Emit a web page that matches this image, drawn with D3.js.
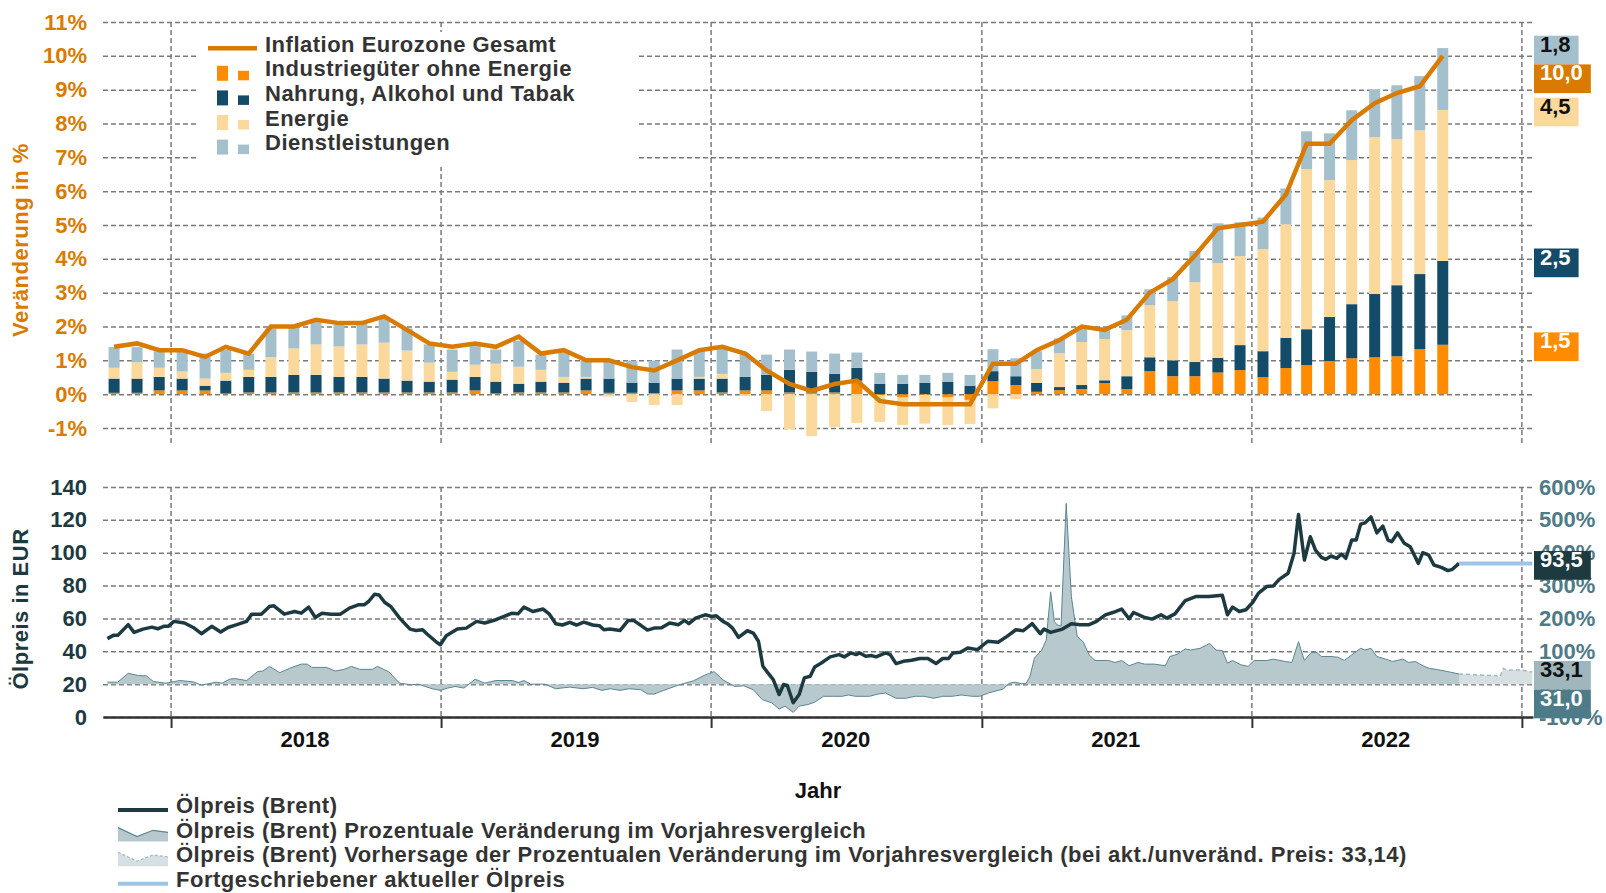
<!DOCTYPE html>
<html>
<head>
<meta charset="utf-8">
<script src="https://cdn.jsdelivr.net/npm/d3@7"></script>
<style>
  body { margin: 0; background: #fff; }
  svg { font-family: "Liberation Sans", Arial, sans-serif; font-weight: bold; }
</style>
</head>
<body>
<svg id="chart" width="1606" height="893"></svg>
<script>
// --- data ---
const months = [
  "2017-10","2017-11","2017-12",
  "2018-01","2018-02","2018-03","2018-04","2018-05","2018-06","2018-07","2018-08","2018-09","2018-10","2018-11","2018-12",
  "2019-01","2019-02","2019-03","2019-04","2019-05","2019-06","2019-07","2019-08","2019-09","2019-10","2019-11","2019-12",
  "2020-01","2020-02","2020-03","2020-04","2020-05","2020-06","2020-07","2020-08","2020-09","2020-10","2020-11","2020-12",
  "2021-01","2021-02","2021-03","2021-04","2021-05","2021-06","2021-07","2021-08","2021-09","2021-10","2021-11","2021-12",
  "2022-01","2022-02","2022-03","2022-04","2022-05","2022-06","2022-07","2022-08","2022-09"
];

// contributions in percentage points
const industrial = [0.04,0.04,0.11,
  0.11,0.11,0.02,0.05,0.05,0.05,0.05,0.05,0.05,0.05,0.05,0.05,
  0.05,0.11,0.02,0.05,0.05,0.05,0.11,0.04,0.04,0.03,0.11,0.11,
  0.05,0.11,0.11,0.05,0.05,0.05,0.40,-0.03,-0.10,-0.02,-0.10,-0.17,
  0.38,0.27,0.07,0.12,0.15,0.33,0.15,0.68,0.53,0.53,0.64,0.71,
  0.50,0.77,0.86,0.98,1.06,1.09,1.12,1.33,1.46];
const food = [0.42,0.42,0.40,
  0.35,0.14,0.38,0.46,0.46,0.52,0.52,0.46,0.46,0.41,0.35,0.32,
  0.38,0.40,0.35,0.26,0.32,0.29,0.35,0.42,0.30,0.31,0.35,0.35,
  0.41,0.40,0.46,0.67,0.61,0.55,0.38,0.31,0.31,0.34,0.37,0.25,
  0.30,0.26,0.26,0.09,0.12,0.08,0.38,0.41,0.47,0.42,0.43,0.74,
  0.77,0.89,1.06,1.30,1.60,1.87,2.10,2.22,2.48];
const energy = [0.32,0.48,0.27,
  0.21,0.21,0.23,0.21,0.58,0.78,0.90,0.90,0.96,1.06,0.89,0.56,
  0.23,0.36,0.53,0.50,0.35,0.17,0.05,-0.07,-0.23,-0.32,-0.32,0.05,
  0.14,-0.05,-0.50,-1.04,-1.24,-0.97,-0.85,-0.79,-0.81,-0.85,-0.81,-0.71,
  -0.42,-0.15,0.41,1.00,1.27,1.22,1.36,1.54,1.75,2.36,2.80,2.63,
  3.02,3.36,4.73,4.05,4.26,4.64,4.32,4.25,4.46];
const services = [0.61,0.45,0.49,
  0.60,0.74,0.69,0.48,0.85,0.62,0.66,0.65,0.62,0.72,0.65,0.54,
  0.66,0.55,0.42,0.77,0.45,0.72,0.48,0.53,0.65,0.65,0.86,0.76,
  0.75,0.66,0.60,0.60,0.60,0.60,0.45,0.32,0.26,0.23,0.26,0.32,
  0.65,0.53,0.53,0.44,0.41,0.32,0.44,0.47,0.71,0.92,1.18,1.00,
  0.93,1.06,1.12,1.38,1.47,1.41,1.59,1.60,1.83];
const inflation = [1.4,1.5,1.3,
  1.3,1.1,1.4,1.2,2.0,2.0,2.2,2.1,2.1,2.3,1.9,1.5,
  1.4,1.5,1.4,1.7,1.2,1.3,1.0,1.0,0.8,0.7,1.0,1.3,
  1.4,1.2,0.7,0.3,0.1,0.3,0.4,-0.2,-0.3,-0.3,-0.3,-0.3,
  0.9,0.9,1.3,1.6,2.0,1.9,2.2,3.0,3.4,4.1,4.9,5.0,
  5.1,5.9,7.4,7.4,8.1,8.6,8.9,9.1,10.0];

// Brent in EUR
const oilPrice = [
  ["2017-10-07",47.7],["2017-10-15",49.7],["2017-10-21",49.7],["2017-11-04",56.2],["2017-11-12",51.5],["2017-11-24",53.5],
  ["2017-12-06",54.7],["2017-12-14",53.7],["2017-12-22",55.2],["2017-12-28",55.2],["2018-01-05",58.2],["2018-01-19",57.2],
  ["2018-01-31",54.5],["2018-02-11",50.7],["2018-02-25",55.2],["2018-03-09",51.7],["2018-03-19",54.5],["2018-03-31",56.2],
  ["2018-04-13",58.2],["2018-04-20",62.6],["2018-05-03",62.6],["2018-05-14",67.3],["2018-05-20",67.7],["2018-06-03",62.6],
  ["2018-06-17",64.2],["2018-06-26",63.2],["2018-07-06",66.9],["2018-07-15",60.6],["2018-07-24",63.2],["2018-08-05",62.6],
  ["2018-08-18",62.6],["2018-08-30",66.3],["2018-09-11",68.3],["2018-09-19",68.3],["2018-09-25",70.3],["2018-10-03",74.7],
  ["2018-10-09",74.3],["2018-10-17",69.7],["2018-10-25",67.3],["2018-11-06",60.2],["2018-11-20",53.5],["2018-11-28",52.7],
  ["2018-12-07",53.1],["2018-12-13",50.5],["2018-12-26",45.5],["2018-12-31",44.0],["2019-01-08",49.5],["2019-01-23",53.5],
  ["2019-02-04",54.1],["2019-02-18",58.2],["2019-03-01",57.2],["2019-03-16",59.2],["2019-03-29",61.6],["2019-04-07",63.2],
  ["2019-04-15",62.8],["2019-04-23",66.9],["2019-05-05",64.2],["2019-05-19",65.7],["2019-05-27",62.8],["2019-06-05",56.8],
  ["2019-06-14",56.0],["2019-06-24",57.6],["2019-07-03",56.0],["2019-07-13",57.8],["2019-07-25",56.0],["2019-08-03",55.6],
  ["2019-08-09",53.1],["2019-08-17",53.5],["2019-08-31",52.7],["2019-09-11",58.8],["2019-09-18",58.8],["2019-09-28",55.8],
  ["2019-10-07",52.9],["2019-10-16",54.1],["2019-10-26",54.3],["2019-11-06",57.2],["2019-11-18",56.2],["2019-11-26",58.8],
  ["2019-12-02",56.8],["2019-12-11",60.2],["2019-12-24",62.2],["2020-01-02",61.2],["2020-01-08",61.6],["2020-01-17",58.2],
  ["2020-01-23",56.8],["2020-01-30",54.1],["2020-02-07",48.5],["2020-02-19",52.5],["2020-02-27",51.1],["2020-03-05",46.1],
  ["2020-03-11",30.9],["2020-03-17",27.3],["2020-03-25",22.8],["2020-04-02",13.7],["2020-04-08",19.8],["2020-04-13",19.2],
  ["2020-04-21",8.7],["2020-04-29",13.7],["2020-05-06",23.8],["2020-05-14",24.8],["2020-05-20",30.5],["2020-05-29",32.9],
  ["2020-06-10",36.6],["2020-06-22",38.0],["2020-06-29",36.6],["2020-07-08",39.0],["2020-07-15",38.0],["2020-07-20",39.0],
  ["2020-07-28",37.0],["2020-08-05",37.4],["2020-08-11",36.6],["2020-08-24",39.0],["2020-08-30",38.0],["2020-09-07",32.5],
  ["2020-09-17",33.9],["2020-09-28",34.5],["2020-10-09",35.6],["2020-10-20",35.6],["2020-10-31",32.5],["2020-11-09",35.6],
  ["2020-11-17",35.6],["2020-11-23",39.0],["2020-12-03",39.4],["2020-12-13",42.0],["2020-12-26",41.0],["2021-01-09",46.1],
  ["2021-01-23",45.5],["2021-02-04",49.1],["2021-02-16",53.1],["2021-02-26",52.5],["2021-03-10",56.8],["2021-03-21",50.7],
  ["2021-03-26",53.5],["2021-04-04",51.5],["2021-04-20",53.5],["2021-05-02",56.8],["2021-05-14",56.2],["2021-05-26",56.2],
  ["2021-06-05",58.2],["2021-06-17",62.2],["2021-06-27",63.6],["2021-07-09",65.7],["2021-07-19",59.8],["2021-07-25",63.6],
  ["2021-08-08",60.8],["2021-08-19",59.6],["2021-08-31",62.2],["2021-09-08",60.2],["2021-09-19",62.8],["2021-10-03",70.9],
  ["2021-10-17",73.3],["2021-11-04",73.3],["2021-11-22",74.1],["2021-11-29",62.2],["2021-12-06",66.9],["2021-12-15",64.2],
  ["2021-12-24",65.3],["2022-01-02",69.7],["2022-01-10",75.4],["2022-01-21",79.4],["2022-01-30",79.8],["2022-02-07",83.8],
  ["2022-02-19",87.5],["2022-02-27",99.6],["2022-03-05",123.2],["2022-03-13",95.6],["2022-03-21",109.7],["2022-03-28",101.6],
  ["2022-04-05",97.2],["2022-04-11",96.0],["2022-04-18",98.0],["2022-04-26",96.6],["2022-05-02",99.2],["2022-05-08",96.6],
  ["2022-05-16",107.7],["2022-05-22",107.7],["2022-05-28",117.4],["2022-06-03",118.2],["2022-06-11",121.8],["2022-06-19",112.1],
  ["2022-06-27",116.2],["2022-07-04",107.7],["2022-07-09",106.7],["2022-07-17",112.1],["2022-07-26",105.7],["2022-08-03",103.6],
  ["2022-08-14",93.5],["2022-08-20",100.0],["2022-08-28",98.6],["2022-09-04",92.5],["2022-09-14",91.1],["2022-09-23",89.1],
  ["2022-09-29",89.9],["2022-10-08",93.5]
];

// Brent, % change on previous year
const oilChange = [
  ["2017-10-07",6],["2017-10-21",6],["2017-11-04",33],["2017-11-18",26],["2017-11-29",25],["2017-12-08",8],["2017-12-25",3],
  ["2018-01-13",11],["2018-01-31",7],["2018-02-11",-3],["2018-03-03",6],["2018-03-11",3],["2018-03-21",15],["2018-03-28",17],
  ["2018-04-13",11],["2018-04-28",38],["2018-05-05",40],["2018-05-14",54],["2018-05-28",35],["2018-06-10",48],["2018-06-26",61],
  ["2018-07-04",61],["2018-07-10",51],["2018-07-30",51],["2018-08-11",40],["2018-08-23",45],["2018-09-02",54],["2018-09-13",45],
  ["2018-09-30",45],["2018-10-07",54],["2018-10-22",38],["2018-11-06",3],["2018-11-22",-2],["2018-12-01",0],["2018-12-20",-14],
  ["2018-12-31",-19],["2019-01-10",-12],["2019-01-20",-7],["2019-02-01",-12],["2019-02-16",15],["2019-03-01",3],["2019-03-16",11],
  ["2019-04-07",11],["2019-04-16",5],["2019-04-23",11],["2019-05-02",0],["2019-05-21",0],["2019-06-05",-14],["2019-06-24",-9],
  ["2019-07-12",-14],["2019-07-25",-10],["2019-08-06",-19],["2019-08-18",-14],["2019-08-31",-19],["2019-09-12",-14],["2019-09-28",-17],
  ["2019-10-07",-30],["2019-10-16",-30],["2019-10-29",-19],["2019-11-19",-2],["2019-12-08",10],["2019-12-24",28],["2020-01-05",38],
  ["2020-01-17",13],["2020-02-02",-7],["2020-02-14",-5],["2020-02-27",-17],["2020-03-10",-47],["2020-03-23",-57],["2020-04-02",-76],
  ["2020-04-10",-67],["2020-04-21",-86],["2020-04-29",-67],["2020-05-11",-62],["2020-05-20",-55],["2020-06-01",-37],["2020-06-13",-37],
  ["2020-06-26",-37],["2020-07-05",-33],["2020-07-14",-37],["2020-08-02",-37],["2020-08-14",-30],["2020-08-24",-27],["2020-09-07",-43],
  ["2020-09-20",-43],["2020-10-03",-37],["2020-10-15",-37],["2020-10-28",-43],["2020-11-09",-37],["2020-11-22",-37],["2020-12-04",-33],
  ["2020-12-19",-37],["2020-12-29",-37],["2021-01-10",-27],["2021-01-23",-19],["2021-01-30",-15],["2021-02-07",3],["2021-02-15",6],
  ["2021-02-24",1],["2021-03-02",3],["2021-03-07",23],["2021-03-13",79],["2021-03-23",104],["2021-03-29",134],["2021-04-04",281],
  ["2021-04-09",190],["2021-04-13",180],["2021-04-18",177],["2021-04-25",550],["2021-05-02",266],["2021-05-10",144],["2021-05-18",129],
  ["2021-05-26",89],["2021-06-03",72],["2021-06-21",72],["2021-06-30",66],["2021-07-09",72],["2021-07-19",56],["2021-07-31",66],
  ["2021-08-09",61],["2021-08-22",61],["2021-09-06",56],["2021-09-12",84],["2021-09-22",91],["2021-10-03",107],["2021-10-10",104],
  ["2021-10-23",109],["2021-11-05",124],["2021-11-13",104],["2021-11-22",102],["2021-11-29",64],["2021-12-06",72],["2021-12-17",59],
  ["2021-12-27",54],["2022-01-04",72],["2022-01-21",72],["2022-01-30",76],["2022-02-15",69],["2022-02-24",66],["2022-03-05",129],
  ["2022-03-13",72],["2022-03-22",96],["2022-03-30",96],["2022-04-05",84],["2022-04-18",84],["2022-04-27",82],["2022-05-06",72],
  ["2022-05-16",89],["2022-05-28",109],["2022-06-03",104],["2022-06-11",109],["2022-06-19",84],["2022-07-01",76],["2022-07-10",69],
  ["2022-07-24",76],["2022-08-01",66],["2022-08-10",69],["2022-08-20",56],["2022-08-29",48],["2022-09-07",45],["2022-09-23",38],
  ["2022-10-08",31.0]
];

// forecast of % change at unchanged price
const oilChangeForecast = [
  ["2022-10-08",31],["2022-11-10",27],["2022-11-26",26],["2022-12-02",22],["2022-12-07",48],
  ["2022-12-14",42],["2022-12-30",44],["2023-01-15",37]
];
const forecastAtPrice = 33.14;
const projectionEnd = "2023-01-15";

const years = ["2018", "2019", "2020", "2021", "2022"];

const barKeys = ["industrial", "food", "energy", "services"];
const barNames = ["Industriegüter ohne Energie", "Nahrung, Alkohol und Tabak", "Energie", "Dienstleistungen"];
const barColors = ["#ff8c00", "#134b69", "#fbd89c", "#a4c0cd"];

const orange = "#d97b00";
const oilColor = "#1d3a41";
const tealText = "#4f7a87";

// --- scales ---
const svg = d3.select("#chart");
const parseDay = d3.timeParse("%Y-%m-%d");
const parseMonth = d3.timeParse("%Y-%m");
const midMonth = m => d3.timeDay.offset(parseMonth(m), 15);

const x = d3.scaleTime()
  .domain([new Date(2017, 9, 1), new Date(2023, 0, 16)])
  .range([103, 1533]);
const x0 = x.range()[0], x1 = x.range()[1];

const yTop = d3.scaleLinear().domain([-1, 11]).range([428, 22]);
const yOil = d3.scaleLinear().domain([0, 140]).range([717, 487]);
const yPct = d3.scaleLinear().domain([-100, 600]).range([717, 487]);

const fmt = v => v.toFixed(1).replace(".", ",");
const FONT = "'Liberation Sans', Arial, sans-serif";

function styleGrid(g) {
  g.select(".domain").remove();
  g.attr("font-size", 22).attr("font-family", FONT).attr("font-weight", "bold");
  g.selectAll(".tick line")
    .attr("stroke", "#7a7a7a")
    .attr("stroke-width", 1.5)
    .attr("stroke-dasharray", "5,3");
}

// --- top chart: grid ---
const yearLines = x.ticks(d3.timeYear.every(1));

svg.append("g")
  .attr("transform", `translate(${x0},0)`)
  .call(d3.axisLeft(yTop).tickValues(d3.range(-1, 12)).tickSize(-(x1 - x0)).tickPadding(16).tickFormat(d => d + "%"))
  .call(styleGrid)
  .call(g => g.selectAll("text").attr("fill", orange));

svg.append("g").selectAll("line")
  .data(yearLines)
  .join("line")
  .attr("x1", d => x(d)).attr("x2", d => x(d))
  .attr("y1", yTop(11)).attr("y2", 445)
  .attr("stroke", "#7a7a7a").attr("stroke-width", 1.5).attr("stroke-dasharray", "5,3");

// legend box hides grid behind it
svg.append("rect")
  .attr("x", 199).attr("y", 32).attr("width", 439).attr("height", 135)
  .attr("fill", "#fff");

// --- top chart: stacked bars ---
const rows = months.map((m, i) => ({
  month: m,
  industrial: industrial[i], food: food[i], energy: energy[i], services: services[i]
}));
const series = d3.stack().keys(barKeys).offset(d3.stackOffsetDiverging)(rows);
const barW = 11;

svg.append("g").selectAll("g")
  .data(series)
  .join("g")
  .attr("fill", (d, i) => barColors[i])
  .selectAll("rect")
  .data(d => d)
  .join("rect")
  .attr("x", d => x(midMonth(d.data.month)) - barW / 2)
  .attr("width", barW)
  .attr("y", d => yTop(Math.max(d[0], d[1])))
  .attr("height", d => Math.abs(yTop(d[0]) - yTop(d[1])));

svg.append("path")
  .datum(months.map((m, i) => [m, inflation[i]]))
  .attr("fill", "none")
  .attr("stroke", orange)
  .attr("stroke-width", 4.5)
  .attr("d", d3.line().x(d => x(midMonth(d[0]))).y(d => yTop(d[1])));

// legend (top)
const legTop = svg.append("g").attr("font-size", 22).attr("fill", "#333").attr("letter-spacing", 0.5);
const legRow0 = 51.7, legStep = 24.6;
legTop.append("line")
  .attr("x1", 208).attr("x2", 257)
  .attr("y1", legRow0 - 3.4).attr("y2", legRow0 - 3.4)
  .attr("stroke", orange).attr("stroke-width", 4.5);
legTop.append("text").attr("x", 265).attr("y", legRow0).text("Inflation Eurozone Gesamt");
barNames.forEach((name, i) => {
  const by = legRow0 + legStep * (i + 1);
  legTop.append("rect").attr("x", 217).attr("y", by - 10.5).attr("width", 11).attr("height", 15).attr("fill", barColors[i]);
  legTop.append("rect").attr("x", 238).attr("y", by - 5.5).attr("width", 11).attr("height", 9.5).attr("fill", barColors[i]);
  legTop.append("text").attr("x", 265).attr("y", by).text(name);
});

// axis title (top)
svg.append("text")
  .attr("transform", "translate(20,240) rotate(-90)")
  .attr("text-anchor", "middle").attr("dy", "0.35em")
  .attr("font-size", 22).attr("letter-spacing", 0.5)
  .attr("fill", orange)
  .text("Veränderung in %");

// --- bottom chart: grid ---
svg.append("g")
  .attr("transform", `translate(${x0},0)`)
  .call(d3.axisLeft(yOil).tickValues(d3.range(0, 141, 20)).tickSize(-(x1 - x0)).tickPadding(16))
  .call(styleGrid)
  .call(g => g.selectAll("text").attr("fill", oilColor));

svg.append("g")
  .attr("transform", `translate(${x1},0)`)
  .call(d3.axisRight(yPct).tickValues(d3.range(-100, 601, 100)).tickSize(0).tickPadding(6).tickFormat(d => d + "%"))
  .call(g => g.select(".domain").remove())
  .attr("font-size", 22).attr("font-family", FONT).attr("font-weight", "bold")
  .call(g => g.selectAll("text").attr("fill", tealText));

svg.append("g").selectAll("line")
  .data(yearLines)
  .join("line")
  .attr("x1", d => x(d)).attr("x2", d => x(d))
  .attr("y1", yOil(140)).attr("y2", yOil(0))
  .attr("stroke", "#7a7a7a").attr("stroke-width", 1.5).attr("stroke-dasharray", "5,3");

// % change area
const areaPct = d3.area()
  .x(d => x(parseDay(d[0])))
  .y0(yPct(0))
  .y1(d => yPct(d[1]));

svg.append("path")
  .datum(oilChangeForecast)
  .attr("fill", "#d6e0e3")
  .attr("d", areaPct);
svg.append("path")
  .datum(oilChangeForecast)
  .attr("fill", "none").attr("stroke", "#a3b9bf").attr("stroke-width", 1.5).attr("stroke-dasharray", "4,3")
  .attr("d", areaPct.lineY1());

svg.append("path")
  .datum(oilChange)
  .attr("fill", "#b8c9ce")
  .attr("d", areaPct);
svg.append("path")
  .datum(oilChange)
  .attr("fill", "none").attr("stroke", "#5a8591").attr("stroke-width", 1)
  .attr("d", areaPct.lineY1());

// oil price line
svg.append("path")
  .datum(oilPrice)
  .attr("fill", "none")
  .attr("stroke", oilColor)
  .attr("stroke-width", 3.5)
  .attr("stroke-linejoin", "round")
  .attr("d", d3.line().x(d => x(parseDay(d[0]))).y(d => yOil(d[1])));

const lastOil = oilPrice[oilPrice.length - 1];
svg.append("line")
  .attr("x1", x(parseDay(lastOil[0]))).attr("x2", x(parseDay(projectionEnd)))
  .attr("y1", yOil(lastOil[1])).attr("y2", yOil(lastOil[1]))
  .attr("stroke", "#9ec5e8").attr("stroke-width", 4);

// x axis
svg.append("g")
  .attr("transform", `translate(0,${yOil(0)})`)
  .call(d3.axisBottom(x).tickValues(yearLines).tickSize(11).tickSizeOuter(0).tickFormat(""))
  .call(g => g.select(".domain").attr("stroke", "#333").attr("stroke-width", 2.5))
  .call(g => g.selectAll(".tick line").attr("stroke", "#333").attr("stroke-width", 2));

svg.append("g").selectAll("text")
  .data(years)
  .join("text")
  .attr("x", d => x(new Date(+d, 6, 1)))
  .attr("y", 747)
  .attr("text-anchor", "middle")
  .attr("font-size", 22)
  .attr("fill", "#111")
  .text(d => d);

svg.append("text")
  .attr("x", (x0 + x1) / 2).attr("y", 798)
  .attr("text-anchor", "middle").attr("font-size", 22).attr("fill", "#111")
  .text("Jahr");

svg.append("text")
  .attr("transform", "translate(20,609) rotate(-90)")
  .attr("text-anchor", "middle").attr("dy", "0.35em")
  .attr("font-size", 22).attr("letter-spacing", 0.5)
  .attr("fill", oilColor)
  .text("Ölpreis in EUR");

// --- value boxes on the right ---
const BOX_H = 28.7;
function valueBoxes(items) {
  items.sort((a, b) => a.y - b.y);
  let prevBottom = -Infinity;
  items.forEach(d => {
    let top = d.y + 2 - BOX_H / 2;
    if (top < prevBottom) top = prevBottom;
    d.top = top;
    prevBottom = top + BOX_H;
  });
  const g = svg.append("g").selectAll("g")
    .data(items)
    .join("g")
    .attr("transform", d => `translate(${x1 + 1},${d.top})`);
  const rect = g.append("rect").attr("height", BOX_H).attr("fill", d => d.fill);
  g.append("text")
    .attr("x", 6).attr("y", 16)
    .attr("font-size", 22)
    .attr("fill", d => d.color)
    .text(d => d.text)
    .each(function (d) { d.w = this.getComputedTextLength(); });
  rect.attr("width", d => d.w + 14);
}

const last = months.length - 1;
const tops = series.map(s => s[last][1]);
valueBoxes([
  { y: yTop(tops[3]), text: fmt(services[last]), fill: barColors[3], color: "#111" },
  { y: yTop(inflation[last]), text: fmt(inflation[last]), fill: orange, color: "#fff" },
  { y: yTop(tops[2]), text: fmt(energy[last]), fill: barColors[2], color: "#111" },
  { y: yTop(tops[1]), text: fmt(food[last]), fill: barColors[1], color: "#fff" },
  { y: yTop(tops[0]), text: fmt(industrial[last]), fill: barColors[0], color: "#fff" }
]);

const lastChange = oilChange[oilChange.length - 1][1];
valueBoxes([
  { y: yOil(lastOil[1]), text: fmt(lastOil[1]), fill: oilColor, color: "#fff" },
  { y: yPct(forecastAtPrice), text: fmt(forecastAtPrice), fill: "#9fb6bc", color: "#111" },
  { y: yPct(lastChange) + 0.1, text: fmt(lastChange), fill: "#4e7b88", color: "#fff" }
]);

// --- legend (bottom) ---
const legBot = svg.append("g").attr("font-size", 22).attr("fill", "#333").attr("letter-spacing", 0.5);
const botRows = [
  { text: "Ölpreis (Brent)", type: "line", color: oilColor },
  { text: "Ölpreis (Brent) Prozentuale Veränderung im Vorjahresvergleich", type: "area", fill: "#b8c9ce", stroke: "#5a8591", dash: null },
  { text: `Ölpreis (Brent) Vorhersage der Prozentualen Veränderung im Vorjahresvergleich (bei akt./unveränd. Preis: ${forecastAtPrice.toFixed(2).replace(".", ",")})`, type: "area", fill: "#d6e0e3", stroke: "#a3b9bf", dash: "3,2" },
  { text: "Fortgeschriebener aktueller Ölpreis", type: "line", color: "#9ec5e8" }
];
const botRow0 = 813, botStep = 24.6;
botRows.forEach((r, i) => {
  const by = botRow0 + botStep * i;
  if (r.type === "line") {
    legBot.append("line")
      .attr("x1", 118).attr("x2", 168).attr("y1", by - 3).attr("y2", by - 3)
      .attr("stroke", r.color).attr("stroke-width", 4);
  } else {
    const pts = [[118, by - 10], [137, by - 1], [153, by - 7.3], [168, by - 5.3]];
    legBot.append("path")
      .attr("d", d3.area().y0(by + 4)(pts))
      .attr("fill", r.fill);
    legBot.append("path")
      .attr("d", d3.line()(pts))
      .attr("fill", "none").attr("stroke", r.stroke).attr("stroke-width", 1.2)
      .attr("stroke-dasharray", r.dash);
  }
  legBot.append("text").attr("x", 176).attr("y", by).text(r.text);
});
</script>
</body>
</html>
